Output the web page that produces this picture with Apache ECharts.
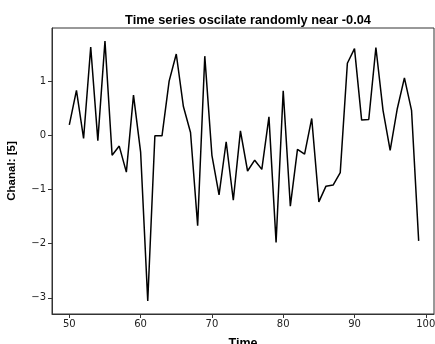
<!DOCTYPE html>
<html>
<head>
<meta charset="utf-8">
<script src="https://cdn.jsdelivr.net/npm/echarts@6/dist/echarts.min.js"></script>
<style>
html,body{margin:0;padding:0;background:#fff;}
#chart{width:435px;height:344px;}
</style>
</head>
<body>
<div id="chart"></div>
<script>
var timeValues = [50,51,52,53,54,55,56,57,58,59,60,61,62,63,64,65,66,67,68,69,70,71,72,73,74,75,76,77,78,79,80,81,82,83,84,85,86,87,88,89,90,91,92,93,94,95,96,97,98,99];
var channelValues = [0.19,0.83,-0.06,1.63,-0.10,1.74,-0.37,-0.20,-0.68,0.74,-0.31,-3.06,-0.01,-0.01,1.00,1.50,0.53,0.05,-1.67,1.46,-0.37,-1.10,-0.12,-1.20,0.08,-0.66,-0.46,-0.63,0.34,-1.98,0.82,-1.31,-0.26,-0.35,0.31,-1.23,-0.94,-0.92,-0.69,1.33,1.60,0.28,0.29,1.62,0.46,-0.28,0.49,1.06,0.46,-1.95];
var xTicks = [50,60,70,80,90,100];
var yTicks = [-3,-2,-1,0,1];
var titleText = 'Time series oscilate randomly near -0.04';
var xName = 'Time';
var yName = 'Chanal: [5]';

function fmt(v){ return v < 0 ? '\u2212' + Math.abs(v) : String(v); }

var chart = echarts.init(document.getElementById('chart'), null, {renderer:'canvas'});
chart.setOption({
  animation: false,
  backgroundColor: '#fff',
  title: {
    text: titleText, left: 243, top: 9, textAlign: 'center',
    textStyle: {fontFamily: 'Liberation Sans', fontWeight: 'bold', fontSize: 12.8, color: '#000'}
  },
  grid: {left: 52, top: 28, right: 1, bottom: 30, show: true, borderColor: '#333', borderWidth: 1, outerBoundsMode: 'none'},
  xAxis: {
    type: 'value', min: 47.57, max: 101.15,
    name: xName, nameLocation: 'middle', nameGap: 23,
    nameTextStyle: {fontFamily: 'Liberation Sans', fontWeight: 'bold', fontSize: 12.5, color: '#000'},
    axisLine: {show: true, onZero: false, lineStyle: {color: '#333', width: 1}},
    axisTick: {show: true, length: 4, customValues: xTicks, lineStyle: {color: '#333'}},
    axisLabel: {customValues: xTicks, formatter: fmt, fontFamily: 'DejaVu Sans', fontSize: 10, color: '#222', margin: 5},
    splitLine: {show: false}
  },
  yAxis: {
    type: 'value', min: -3.30, max: 1.98,
    name: yName, nameLocation: 'middle', nameGap: 34, nameRotate: 90,
    nameTextStyle: {fontFamily: 'Liberation Sans', fontWeight: 'bold', fontSize: 11.5, color: '#000'},
    axisLine: {show: true, onZero: false, lineStyle: {color: '#333', width: 1}},
    axisTick: {show: true, length: 4, customValues: yTicks, lineStyle: {color: '#333'}},
    axisLabel: {customValues: yTicks, formatter: fmt, fontFamily: 'DejaVu Sans', fontSize: 10, color: '#222', margin: 6},
    splitLine: {show: false}
  },
  series: [{
    type: 'line',
    data: timeValues.map(function(t, i){ return [t, channelValues[i]]; }),
    showSymbol: false,
    lineStyle: {color: '#000', width: 1.5},
    silent: true
  }]
});
</script>
</body>
</html>
